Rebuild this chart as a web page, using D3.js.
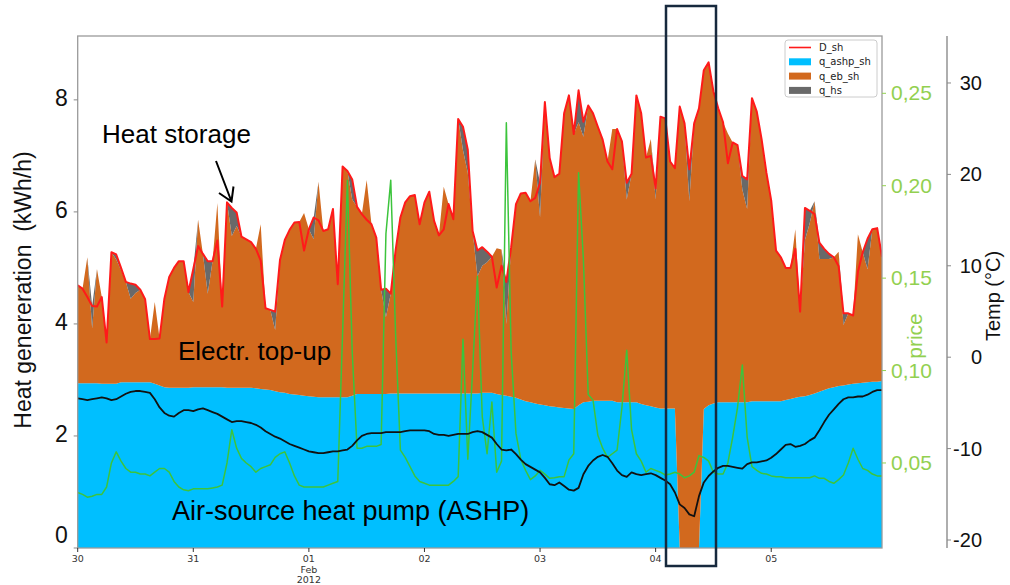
<!DOCTYPE html>
<html><head><meta charset="utf-8">
<script src="https://cdn.jsdelivr.net/npm/d3@7"></script>
<style>body{margin:0;background:#fff}</style>
</head><body><svg id="c" width="1010" height="585"></svg>
<script>
// ---- data (hourly, from 2012-01-30 00:00) ----
const D_sh = [4.69,4.63,4.48,4.32,4.31,4.48,3.67,5.28,5.24,5.00,
 4.75,4.72,4.70,4.61,4.44,3.73,3.73,3.74,4.45,4.84,
 5.00,5.12,5.12,4.57,4.98,5.39,5.25,5.12,5.12,5.49,
 4.31,6.17,6.07,5.99,5.56,5.51,5.46,5.34,5.13,4.28,
 4.25,4.22,5.14,5.50,5.68,5.81,5.82,5.31,5.69,5.90,
 5.85,5.66,5.69,6.05,4.71,6.81,6.73,6.58,6.09,5.96,
 5.86,5.78,5.54,4.61,4.63,4.54,5.31,5.90,6.17,6.28,
 6.30,5.78,6.17,6.36,5.84,5.58,5.69,6.14,5.87,7.66,
 7.52,7.11,5.66,5.31,5.37,5.29,5.20,4.65,5.04,4.75,
 5.37,6.14,6.33,6.34,6.19,6.25,6.52,7.96,6.96,6.62,
 6.68,7.76,8.08,7.39,8.17,7.61,7.90,7.76,7.52,7.29,
 6.90,6.76,7.48,7.26,6.52,6.68,8.08,7.76,6.97,7.00,
 6.42,7.70,7.67,6.90,6.78,7.88,7.58,6.76,7.58,7.85,
 8.53,8.67,8.15,7.85,7.60,6.87,7.24,7.19,6.64,6.58,
 8.03,7.79,7.30,6.70,6.20,5.31,5.19,5.00,5.00,5.34,
 4.22,6.07,6.02,5.96,5.45,5.34,5.25,5.19,5.03,4.19,
 4.19,4.15,4.93,5.28,5.52,5.69,5.71,5.20];

const q_ashp_sh = [2.94,2.94,2.94,2.94,2.94,2.93,2.93,2.93,2.93,2.96,
 2.96,2.96,2.96,2.96,2.96,2.96,2.93,2.90,2.87,2.86,
 2.86,2.86,2.86,2.86,2.87,2.87,2.87,2.87,2.87,2.87,
 2.87,2.86,2.86,2.86,2.86,2.86,2.86,2.85,2.84,2.83,
 2.82,2.80,2.78,2.77,2.75,2.74,2.73,2.72,2.71,2.70,
 2.69,2.69,2.69,2.69,2.69,2.69,2.69,2.72,2.75,2.75,
 2.75,2.75,2.75,2.75,2.75,2.76,2.76,2.76,2.76,2.76,
 2.76,2.76,2.76,2.76,2.76,2.76,2.76,2.76,2.76,2.76,
 2.76,2.76,2.76,2.76,2.77,2.77,2.77,2.75,2.73,2.72,
 2.70,2.68,2.65,2.62,2.60,2.58,2.56,2.55,2.53,2.52,
 2.51,2.50,2.49,2.48,2.55,2.60,2.61,2.63,2.63,2.63,
 2.63,2.63,2.60,2.60,2.60,2.60,2.60,2.57,2.55,2.53,
 2.51,2.49,2.49,2.49,2.49,0,0,0,0,0,
 2.48,2.55,2.58,2.60,2.60,2.60,2.60,2.60,2.60,2.60,
 2.62,2.62,2.62,2.62,2.62,2.62,2.62,2.64,2.66,2.68,
 2.70,2.71,2.73,2.76,2.79,2.82,2.85,2.87,2.89,2.90,
 2.92,2.93,2.94,2.95,2.96,2.97,2.97,2.98];

const q_eb_sh = [1.75,1.69,2.25,0.98,2.04,1.55,0.74,2.35,2.22,2.00,
 1.79,1.49,1.59,1.65,1.48,0.77,1.46,0.84,1.58,1.98,
 2.14,2.26,2.26,1.71,1.52,2.99,2.38,1.67,2.25,3.29,
 1.44,3.31,2.71,2.89,2.70,2.65,2.60,2.49,2.94,1.45,
 1.43,1.09,2.36,2.73,2.93,3.07,3.09,3.26,2.98,2.81,
 3.85,2.97,3.00,3.36,2.02,4.12,4.04,3.50,3.34,3.21,
 3.82,3.03,2.79,1.86,1.37,1.78,2.55,3.14,3.41,3.52,
 3.54,3.02,3.41,3.60,3.08,2.82,3.69,3.38,3.11,4.90,
 4.34,3.94,2.90,2.09,2.27,2.33,2.43,2.60,2.60,1.28,
 2.67,3.46,3.68,3.72,3.59,4.36,3.34,5.41,4.43,4.10,
 4.17,5.26,5.59,4.91,5.05,4.74,5.29,5.13,4.89,4.66,
 4.27,4.85,4.88,4.66,3.62,4.08,5.48,5.19,4.42,4.77,
 3.71,5.21,5.18,4.41,4.29,7.88,7.58,6.19,7.58,7.85,
 6.05,6.12,5.57,5.25,5.00,4.80,4.64,4.59,3.80,3.45,
 5.41,5.17,4.68,4.08,3.58,2.69,2.57,2.36,2.34,3.01,
 1.52,2.79,3.07,3.43,2.37,2.34,2.31,2.32,2.40,1.08,
 1.27,1.22,2.66,2.33,2.02,2.72,2.74,2.22];

const q_hs = [0,0,0,0.40,0,0,0,0,0.09,0.04,
 0,0.27,0.15,0,0,0,0,0,0,0,
 0,0,0,0,0.59,0,0,0.58,0,0,
 0,0,0.50,0.24,0,0,0,0,0,0,
 0,0.33,0,0,0,0,0,0,0,0.39,
 0,0,0,0,0,0,0,0.36,0,0,
 0,0,0,0,0.51,0,0,0,0,0,
 0,0,0,0,0,0,0,0,0,0,
 0.42,0.41,0,0.46,0.33,0.19,0,0,0,0.75,
 0,0,0,0,0,0,0.62,0,0,0,
 0,0,0,0,0.57,0.27,0,0,0,0,
 0,0,0,0,0.30,0,0,0,0,0,
 0.20,0,0,0,0,0,0,0.57,0,0,
 0,0,0,0,0,0,0,0,0.24,0.53,
 0,0,0,0,0,0,0,0,0,0,
 0,0.57,0.22,0,0.29,0.18,0.09,0,0,0.21,
 0,0,0,0,0.54,0,0,0];

const temp = [-4.5,-4.6,-4.7,-4.6,-4.5,-4.4,-4.5,-4.7,-4.6,-4.3,
 -4.0,-3.8,-3.7,-3.7,-3.8,-3.9,-4.6,-5.5,-6.1,-6.4,
 -6.5,-6.1,-5.8,-5.8,-5.9,-5.7,-5.6,-5.8,-6.0,-6.2,
 -6.5,-6.8,-7.1,-7.0,-7.0,-7.1,-7.2,-7.4,-7.7,-8.1,
 -8.4,-8.7,-8.9,-9.2,-9.5,-9.7,-9.9,-10.1,-10.3,-10.4,
 -10.5,-10.5,-10.4,-10.3,-10.3,-10.2,-10.1,-9.7,-9.1,-8.6,
 -8.4,-8.3,-8.3,-8.3,-8.2,-8.2,-8.2,-8.2,-8.1,-8.0,
 -8.0,-8.0,-8.0,-8.1,-8.4,-8.5,-8.5,-8.6,-8.5,-8.4,
 -8.4,-8.4,-8.2,-8.1,-8.2,-8.5,-8.8,-9.5,-10.1,-10.2,
 -10.1,-10.6,-11.2,-11.7,-12.0,-12.3,-12.6,-13.2,-13.9,-14.0,
 -13.7,-14.1,-14.5,-14.6,-14.3,-12.8,-11.9,-11.3,-10.9,-10.7,
 -10.9,-11.6,-12.4,-12.9,-13.1,-12.6,-12.8,-12.9,-12.8,-12.7,
 -12.9,-13.2,-13.5,-13.9,-14.8,-16.1,-16.5,-17.2,-17.4,-15.2,
 -13.7,-13.0,-12.5,-12.1,-11.9,-11.9,-12.0,-12.1,-12.2,-11.7,
 -11.5,-11.5,-11.4,-11.3,-11.0,-10.6,-10.1,-9.6,-9.5,-9.8,
 -9.7,-9.5,-9.1,-8.8,-8.0,-7.1,-6.3,-5.7,-5.1,-4.6,
 -4.4,-4.4,-4.3,-4.3,-4.1,-3.8,-3.6,-3.6];

const price = [0.034,0.033,0.0315,0.032,0.033,0.033,0.037,0.050,0.056,0.051,
 0.047,0.045,0.045,0.044,0.044,0.043,0.045,0.047,0.047,0.045,
 0.040,0.037,0.0355,0.035,0.036,0.036,0.036,0.036,0.0365,0.037,
 0.038,0.050,0.068,0.058,0.0525,0.050,0.048,0.045,0.047,0.048,
 0.049,0.053,0.055,0.056,0.050,0.043,0.038,0.037,0.037,0.037,
 0.037,0.037,0.038,0.039,0.040,0.120,0.203,0.110,0.058,0.058,
 0.059,0.059,0.059,0.060,0.174,0.203,0.120,0.057,0.053,0.048,
 0.043,0.040,0.039,0.038,0.038,0.038,0.038,0.038,0.040,0.0426,
 0.117,0.052,0.100,0.151,0.075,0.055,0.083,0.045,0.051,0.234,
 0.110,0.066,0.052,0.046,0.041,0.043,0.046,0.044,0.0417,0.042,
 0.0425,0.0426,0.0516,0.055,0.207,0.160,0.087,0.084,0.065,0.058,
 0.053,0.055,0.057,0.080,0.111,0.068,0.055,0.051,0.045,0.047,
 0.046,0.045,0.0435,0.044,0.045,0.044,0.042,0.043,0.045,0.054,
 0.053,0.051,0.045,0.044,0.044,0.050,0.064,0.080,0.103,0.064,
 0.048,0.046,0.0444,0.044,0.043,0.0426,0.0426,0.042,0.042,0.042,
 0.042,0.042,0.042,0.043,0.0417,0.0417,0.040,0.039,0.041,0.0435,
 0.050,0.058,0.052,0.047,0.046,0.044,0.043,0.043];

const leftTicks = [0,2,4,6,8];
const priceTicks = [0.05,0.10,0.15,0.20,0.25];
const tempTicks = [-20,-10,0,10,20,30];
const legendLabels = ["D_sh","q_ashp_sh","q_eb_sh","q_hs"];

// ---- layout ----
const L = 77.7, R = 882, T = 36, B = 548;
const svg = d3.select("#c");
svg.append("rect").attr("width",1010).attr("height",585).attr("fill","#fff");

const t0 = new Date(2012,0,30,0);
const times = D_sh.map((d,i)=>d3.timeHour.offset(t0,i));
const x = d3.scaleTime().domain(d3.extent(times)).range([L,R]);
const y = d3.scaleLinear().domain([0,9.14]).range([B,T]);
const yP = d3.scaleLinear().domain([0.004,0.281]).range([B,T]);
const yT = d3.scaleLinear().domain([-20.875,35.14]).range([B,T]);

svg.append("clipPath").attr("id","pc").append("rect")
  .attr("x",L).attr("y",T).attr("width",R-L).attr("height",B-T);
const g = svg.append("g").attr("clip-path","url(#pc)");

const keys = ["q_ashp_sh","q_eb_sh","q_hs"];
const colors = {q_ashp_sh:"#00bfff", q_eb_sh:"#d2691e", q_hs:"#696969"};
const rows = times.map((t,i)=>({q_ashp_sh:q_ashp_sh[i], q_eb_sh:q_eb_sh[i], q_hs:q_hs[i]}));
const series = d3.stack().keys(keys)(rows);
const area = d3.area().x((d,i)=>x(times[i])).y0(d=>y(d[0])).y1(d=>y(d[1]));
g.selectAll("path.a").data(series).enter().append("path")
  .attr("d",area).attr("fill",d=>colors[d.key]).attr("stroke","none");

g.append("path").datum(D_sh)
  .attr("d",d3.line().x((d,i)=>x(times[i])).y(d=>y(d)))
  .attr("fill","none").attr("stroke","#ff1a1a").attr("stroke-width",2).attr("stroke-linejoin","round");

g.append("path").datum(price)
  .attr("d",d3.line().x((d,i)=>x(times[i])).y(d=>yP(d)))
  .attr("fill","none").attr("stroke","#3cc43c").attr("stroke-width",1.5).attr("stroke-linejoin","round");

g.append("path").datum(temp)
  .attr("d",d3.line().x((d,i)=>x(times[i])).y(d=>yT(d)))
  .attr("fill","none").attr("stroke","#111").attr("stroke-width",1.8).attr("stroke-linejoin","round");

// frame
svg.append("rect").attr("x",L).attr("y",T).attr("width",R-L).attr("height",B-T)
  .attr("fill","none").attr("stroke","#9a9a9a").attr("stroke-width",1.3);

// left axis
const lf = "Liberation Sans, Arial, sans-serif";
leftTicks.forEach(v=>{
  svg.append("line").attr("x1",L-4).attr("x2",L).attr("y1",y(v)).attr("y2",y(v)).attr("stroke","#888");
  svg.append("text").attr("x",L-10).attr("y",Math.min(y(v),B-11)+6).attr("text-anchor","end")
    .attr("font-family",lf).attr("font-size",23).attr("fill","#111").text(v);
});
svg.append("text").attr("transform","translate(31,290) rotate(-90)").attr("text-anchor","middle")
  .attr("font-family",lf).attr("font-size",23).attr("fill","#111").attr("xml:space","preserve")
  .text("Heat genereration  (kWh/h)");

// x axis
const days = d3.timeDay.range(t0, d3.timeHour.offset(times[times.length-1],1));
const fmt = d3.timeFormat("%d");
days.forEach(dt=>{
  const px = x(dt);
  svg.append("line").attr("x1",px).attr("x2",px).attr("y1",B).attr("y2",B+4).attr("stroke","#333");
  const t = svg.append("text").attr("x",px).attr("y",B+14).attr("text-anchor","middle")
    .attr("font-family","DejaVu Sans, sans-serif").attr("font-size",9.5).attr("fill","#333");
  t.append("tspan").attr("x",px).text(fmt(dt));
  if (dt.getDate()===1) {
    t.append("tspan").attr("x",px).attr("dy",10.5).text(d3.timeFormat("%b")(dt));
    t.append("tspan").attr("x",px).attr("dy",10.5).text(d3.timeFormat("%Y")(dt));
  }
});

// price axis (right spine)
const pf = v => d3.format(".2f")(v).replace(".",",");
priceTicks.forEach(v=>{
  svg.append("line").attr("x1",R).attr("x2",R+4).attr("y1",yP(v)).attr("y2",yP(v)).attr("stroke","#92d050");
  svg.append("text").attr("x",R+9).attr("y",yP(v)+7).attr("font-family",lf).attr("font-size",21)
    .attr("fill","#92d050").text(pf(v));
});
svg.append("text").attr("transform","translate(922,336) rotate(-90)").attr("text-anchor","middle")
  .attr("font-family",lf).attr("font-size",21).attr("fill","#92d050").text("price");

// temp axis
const TX = 947;
svg.append("line").attr("x1",TX).attr("x2",TX).attr("y1",T).attr("y2",B).attr("stroke","#9a9a9a").attr("stroke-width",1.6);
tempTicks.forEach(v=>{
  svg.append("line").attr("x1",TX).attr("x2",TX+4).attr("y1",yT(v)).attr("y2",yT(v)).attr("stroke","#888");
  svg.append("text").attr("x",982).attr("y",yT(v)+7).attr("text-anchor","end").attr("font-family",lf)
    .attr("font-size",20).attr("fill","#111").text(v);
});
svg.append("text").attr("transform","translate(1000,296) rotate(-90)").attr("text-anchor","middle")
  .attr("font-family",lf).attr("font-size",20).attr("fill","#111").text("Temp (°C)");

// legend
const lg = svg.append("g");
lg.append("rect").attr("x",785).attr("y",40).attr("width",92).attr("height",57).attr("rx",3)
  .attr("fill","#fff").attr("fill-opacity",0.85).attr("stroke","#cccccc");
const legendColors = ["#ff1a1a","#00bfff","#d2691e","#696969"];
legendLabels.forEach((lab,i)=>{
  const yy = 47.5 + i*14.3;
  if (i===0) lg.append("line").attr("x1",789).attr("x2",811).attr("y1",yy).attr("y2",yy)
    .attr("stroke",legendColors[i]).attr("stroke-width",1.6);
  else lg.append("rect").attr("x",789).attr("y",yy-3.5).attr("width",22).attr("height",7).attr("fill",legendColors[i]);
  lg.append("text").attr("x",819).attr("y",yy+3.6).attr("font-family","DejaVu Sans, sans-serif")
    .attr("font-size",10).attr("fill","#222").text(lab);
});

// annotations
function label(tx,ty,str,size){
  svg.append("text").attr("x",tx).attr("y",ty).attr("font-family",lf).attr("font-size",size).attr("fill","#000").text(str);
}
label(102,143,"Heat storage",26);
label(178,360,"Electr. top-up",26);
label(172,520,"Air-source heat pump (ASHP)",27);
svg.append("path").attr("d","M216,161 L231.5,201.5 M219,193 L231.5,201.5 L233.5,186.5")
  .attr("fill","none").attr("stroke","#000").attr("stroke-width",2);

// highlight box
svg.append("rect").attr("x",666).attr("y",6).attr("width",50).attr("height",560)
  .attr("fill","none").attr("stroke","#17293d").attr("stroke-width",2.5);
</script></body></html>
